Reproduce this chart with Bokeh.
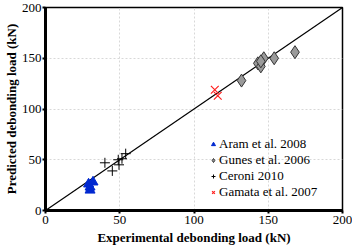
from bokeh.plotting import figure
from bokeh.models import Range1d, FixedTicker, Legend, LegendItem
from bokeh.embed import file_html
from bokeh.resources import INLINE

aram_x = [29, 30, 32, 30]
aram_y = [26, 20, 28, 23]
gunes_x = [132, 143, 145, 147, 145, 154, 168]
gunes_y = [128, 145, 142, 150, 147, 150, 156]
ceroni_x = [40, 45, 49, 49.5, 51.5, 54]
ceroni_y = [47, 39, 50, 45, 51, 56]
gamata_x = [114, 116]
gamata_y = [119, 113]
line_x = [0, 200]
line_y = [0, 200]
ticks = [0, 50, 100, 150, 200]

SERIF = "Liberation Serif"

p = figure(width=352, height=247, output_backend="svg", toolbar_location=None,
           x_range=Range1d(0, 200), y_range=Range1d(0, 200),
           min_border_left=0, min_border_right=10, min_border_top=7, min_border_bottom=0)
p.background_fill_color = "white"
p.border_fill_color = "white"
p.outline_line_color = "black"
p.outline_line_width = 1.5

for ax in (p.xaxis[0], p.yaxis[0]):
    ax.ticker = FixedTicker(ticks=ticks)
    ax.axis_line_width = 3
    ax.axis_line_color = "black"
    ax.major_tick_line_width = 2
    ax.major_tick_out = 3
    ax.major_tick_in = 0
    ax.minor_tick_line_color = None
    ax.major_label_text_font = SERIF
    ax.major_label_text_font_size = "13px"
    ax.major_label_text_color = "black"
    ax.axis_label_text_font = SERIF
    ax.axis_label_text_font_size = "13px"
    ax.axis_label_text_font_style = "bold"
    ax.axis_label_text_color = "black"
    ax.major_label_standoff = 2

p.xaxis.axis_label = "Experimental debonding load (kN)"
p.yaxis.axis_label = "Predicted debonding load (kN)"
p.xaxis.axis_label_standoff = 3
p.yaxis.axis_label_standoff = 0
p.yaxis.major_label_standoff = 1
p.yaxis.axis_label_text_line_height = 0.9
p.yaxis.major_label_orientation = "horizontal"

for g in (p.xgrid[0], p.ygrid[0]):
    g.ticker = FixedTicker(ticks=[50, 100, 150])
    g.grid_line_color = "#d8d8d8"
    g.grid_line_dash = "2 2"
    g.grid_line_width = 1

p.line(line_x, line_y, line_color="black", line_width=1.2)

r_aram = p.scatter(aram_x, aram_y, marker="triangle", size=10,
                   fill_color="#0028d0", line_color="#0028d0")
r_gunes = p.scatter(gunes_x, gunes_y, marker="diamond", size=13,
                    fill_color="#9a9a9a", line_color="#333333", line_width=1)
r_ceroni = p.scatter(ceroni_x, ceroni_y, marker="cross", size=10,
                     line_color="black", line_width=1)
r_gamata = p.scatter(gamata_x, gamata_y, marker="x", size=11,
                     line_color="#ff2020", line_width=1.2)

legend = Legend(items=[
    LegendItem(label="Aram et al. 2008", renderers=[r_aram]),
    LegendItem(label="Gunes et al. 2006", renderers=[r_gunes]),
    LegendItem(label="Ceroni 2010", renderers=[r_ceroni]),
    LegendItem(label="Gamata et al. 2007", renderers=[r_gamata]),
], location=(163, 10))
legend.border_line_color = None
legend.background_fill_alpha = 0
legend.padding = 0
legend.margin = 0
legend.spacing = 0
legend.label_text_font = SERIF
legend.label_text_font_size = "13px"
legend.label_text_color = "black"
legend.label_height = 12
legend.glyph_height = 12
legend.glyph_width = 10
legend.label_standoff = 1
p.add_layout(legend, "center")

open("out.html", "w").write(file_html(p, INLINE))
